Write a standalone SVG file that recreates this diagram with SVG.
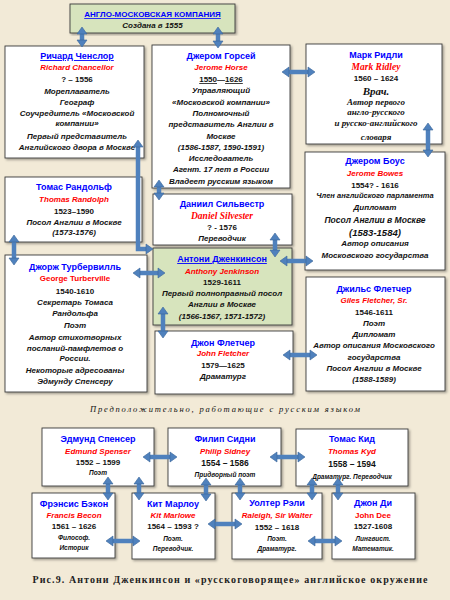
<svg xmlns="http://www.w3.org/2000/svg" width="450" height="600" viewBox="0 0 450 600">
<defs>
<filter id="sh" x="-10%" y="-10%" width="120%" height="120%"><feDropShadow dx="1.5" dy="1.5" stdDeviation="0.8" flood-color="#000" flood-opacity="0.35"/></filter>
<marker id="ah" markerUnits="userSpaceOnUse" markerWidth="8" markerHeight="11" refX="0" refY="5" orient="auto-start-reverse" overflow="visible"><path d="M0,0 L7,5 L0,10 z" fill="#4F81BD" stroke="#3A6699" stroke-width="0.6"/></marker>
<style>
.box{fill:#fff;stroke:#3a3a3a;stroke-width:0.9;filter:url(#sh)}
.grn{fill:#D7E4BD}
text{text-anchor:middle;font-family:"Liberation Sans",Arial,sans-serif}
.nm{font-weight:bold;font-size:9px;fill:#0000FF}
.u{text-decoration:underline}
.en{font-weight:bold;font-style:italic;font-size:8px;fill:#FF0000}
.ens{font-family:"Liberation Serif","Times New Roman",serif;font-weight:bold;font-style:italic;font-size:9.5px;fill:#FF0000}
.d{font-weight:bold;font-size:8px;fill:#111}
.t{font-weight:bold;font-style:italic;font-size:8px;fill:#111}
.ts{font-family:"Liberation Serif","Times New Roman",serif;font-weight:bold;font-style:italic;font-size:9px;fill:#111}
.sm{font-weight:bold;font-style:italic;font-size:6.5px;fill:#111}
.cap{font-family:"Liberation Serif","Times New Roman",serif;font-style:italic;font-size:8.5px;fill:#111}
.fig{font-family:"Liberation Serif","Times New Roman",serif;font-weight:bold;font-size:10px;fill:#222}
.con{fill:none;stroke:#4F81BD;stroke-width:4.5;marker-start:url(#ah);marker-end:url(#ah)}
</style>
</defs>
<rect width="450" height="600" fill="#F2EAD7"/>

<g id="company">
<rect class="box grn" x="70" y="4" width="165" height="29"/>
<text class="nm u" x="152.5" y="17" style="font-size:8px">АНГЛО-МОСКОВСКАЯ КОМПАНИЯ</text>
<text class="t" x="152.5" y="28">Создана в 1555</text>
</g>

<g id="chancellor">
<rect class="box" x="5" y="46" width="139" height="112"/>
<text class="nm u" x="77" y="59">Ричард Ченслор</text>
<text class="en" x="77" y="70">Richard  Chancellor</text>
<text class="d" x="77" y="82">? – 1556</text>
<text class="t" x="77" y="94">Мореплаватель</text>
<text class="t" x="77" y="105">Географ</text>
<text class="t" x="77" y="116">Соучредитель «Московской</text>
<text class="t" x="77" y="126">компании»</text>
<text class="t" x="77" y="139">Первый представитель</text>
<text class="t" x="77" y="150">Английского двора в Москве</text>
</g>

<g id="horse">
<rect class="box" x="152" y="45" width="138" height="143"/>
<text class="nm" x="221" y="59">Джером Горсей</text>
<text class="en" x="221" y="70">Jerome  Horse</text>
<text class="d" x="221" y="82"><tspan class="u">1550</tspan>—<tspan class="u">1626</tspan></text>
<text class="t" x="221" y="93">Управляющий</text>
<text class="t" x="221" y="105">«Московской компании»</text>
<text class="t" x="221" y="116">Полномочный</text>
<text class="t" x="221" y="127">представитель Англии в</text>
<text class="t" x="221" y="139">Москве</text>
<text class="t" x="221" y="150">(1586-1587, 1590-1591)</text>
<text class="t" x="221" y="161">Исследователь</text>
<text class="t" x="221" y="172">Агент. 17 лет в России</text>
<text class="t" x="221" y="184">Владеет русским языком</text>
</g>

<g id="ridley">
<rect class="box" x="306" y="44" width="136" height="100"/>
<text class="nm" x="376" y="58">Марк Ридли</text>
<text class="ens" x="376" y="70">Mark Ridley</text>
<text class="d" x="376" y="81">1560 – 1624</text>
<text class="ts" x="376" y="95" style="font-size:11px">Врач.</text>
<text class="ts" x="376" y="105">Автор первого</text>
<text class="ts" x="376" y="115">англо-русского</text>
<text class="ts" x="376" y="126">и русско-английского</text>
<text class="ts" x="376" y="140">словаря</text>
</g>

<g id="bowes">
<rect class="box" x="305" y="152" width="140" height="118"/>
<text class="nm" x="375" y="164">Джером Боус</text>
<text class="en" x="375" y="176">Jerome  Bowes</text>
<text class="d" x="375" y="188">1554? - 1616</text>
<text class="t" x="375" y="198" style="font-size:7.5px">Член английского парламента</text>
<text class="t" x="375" y="210">Дипломат</text>
<text class="t" x="375" y="223" style="font-size:8.5px">Посол Англии в Москве</text>
<text class="t" x="375" y="236" style="font-size:9.5px">(1583-1584)</text>
<text class="t" x="375" y="246">Автор описания</text>
<text class="t" x="375" y="258">Московского государства</text>
</g>

<g id="randolph">
<rect class="box" x="5" y="177" width="137" height="65"/>
<text class="nm" x="74" y="190">Томас Рандольф</text>
<text class="en" x="74" y="202">Thomas  Randolph</text>
<text class="d" x="74" y="214">1523–1590</text>
<text class="t" x="74" y="225">Посол Англии в Москве</text>
<text class="t" x="74" y="235">(1573-1576)</text>
</g>

<g id="silvester">
<rect class="box" x="153" y="194" width="139" height="51"/>
<text class="nm" x="222" y="207">Даниил Сильвестр</text>
<text class="ens" x="222" y="219">Daniel Silvester</text>
<text class="d" x="222" y="230">? - 1576</text>
<text class="t" x="222" y="241">Переводчик</text>
</g>

<g id="jenkinson">
<rect class="box grn" x="153" y="248" width="139" height="77"/>
<text class="nm u" x="222" y="262">Антони Дженкинсон</text>
<text class="en" x="222" y="274">Anthony  Jenkinson</text>
<text class="d" x="222" y="285">1529-1611</text>
<text class="t" x="222" y="296">Первый полноправный посол</text>
<text class="t" x="222" y="307">Англии в Москве</text>
<text class="t" x="222" y="319">(1566-1567, 1571-1572)</text>
</g>

<g id="turberville">
<rect class="box" x="5" y="255" width="142" height="137"/>
<text class="nm" x="75" y="270">Джорж Турбервилль</text>
<text class="en" x="75" y="281" style="font-style:normal">George  Turberville</text>
<text class="d" x="75" y="294">1540-1610</text>
<text class="t" x="75" y="305">Секретарь Томаса</text>
<text class="t" x="75" y="316">Рандольфа</text>
<text class="t" x="75" y="328">Поэт</text>
<text class="t" x="75" y="340">Автор стихотворных</text>
<text class="t" x="75" y="351">посланий-памфлетов о</text>
<text class="t" x="75" y="361">России.</text>
<text class="t" x="75" y="373">Некоторые адресованы</text>
<text class="t" x="75" y="384">Эдмунду Спенсеру</text>
</g>

<g id="giles">
<rect class="box" x="306" y="277" width="139" height="114"/>
<text class="nm" x="374" y="292">Джильс Флетчер</text>
<text class="en" x="374" y="303">Giles  Fletcher, Sr.</text>
<text class="d" x="374" y="315">1546-1611</text>
<text class="t" x="374" y="326">Поэт</text>
<text class="t" x="374" y="337">Дипломат</text>
<text class="t" x="374" y="348">Автор описания Московского</text>
<text class="t" x="374" y="360">государства</text>
<text class="t" x="374" y="371">Посол Англии в Москве</text>
<text class="t" x="374" y="382">(1588-1589)</text>
</g>

<g id="jfletcher">
<rect class="box" x="155" y="331" width="138" height="63"/>
<text class="nm" x="223" y="346">Джон Флетчер</text>
<text class="en" x="223" y="356">John  Fletcher</text>
<text class="d" x="223" y="368">1579—1625</text>
<text class="t" x="223" y="379">Драматург</text>
</g>

<text class="cap" x="225" y="412" textLength="270" lengthAdjust="spacing">Предположительно, работающие с русским языком</text>

<g id="spenser">
<rect class="box" x="42" y="428" width="112" height="58"/>
<text class="nm" x="98" y="442">Эдмунд Спенсер</text>
<text class="en" x="98" y="454">Edmund Spenser</text>
<text class="d" x="98" y="465">1552 – 1599</text>
<text class="sm" x="98" y="475">Поэт</text>
</g>

<g id="sidney">
<rect class="box" x="168" y="428" width="113" height="58"/>
<text class="nm" x="225" y="442">Филип Сидни</text>
<text class="en" x="225" y="454">Philip Sidney</text>
<text class="d" x="225" y="466" style="font-size:8.5px">1554 – 1586</text>
<text class="sm" x="225" y="477">Придворный поэт</text>
</g>

<g id="kyd">
<rect class="box" x="296" y="429" width="112" height="57"/>
<text class="nm" x="352" y="442">Томас Кид</text>
<text class="en" x="352" y="454">Thomas Kyd</text>
<text class="d" x="352" y="467" style="font-size:8.5px">1558 – 1594</text>
<text class="sm" x="352" y="479">Драматург. Переводчик</text>
</g>

<g id="bacon">
<rect class="box" x="32" y="493" width="83" height="65"/>
<text class="nm" x="74" y="507">Фрэнсис Бэкон</text>
<text class="en" x="74" y="518">Francis Becon</text>
<text class="d" x="74" y="529">1561 – 1626</text>
<text class="sm" x="74" y="540">Философ.</text>
<text class="sm" x="74" y="550">Историк</text>
</g>

<g id="marlowe">
<rect class="box" x="132" y="493" width="83" height="66"/>
<text class="nm" x="173" y="507">Кит Марлоу</text>
<text class="en" x="173" y="518">Kit Marlowe</text>
<text class="d" x="173" y="529">1564 – 1593 ?</text>
<text class="sm" x="173" y="541">Поэт.</text>
<text class="sm" x="173" y="551">Переводчик.</text>
</g>

<g id="raleigh">
<rect class="box" x="232" y="493" width="90" height="66"/>
<text class="nm" x="277" y="506">Уолтер Рэли</text>
<text class="en" x="277" y="518">Raleigh, Sir  Walter</text>
<text class="d" x="277" y="530">1552 – 1618</text>
<text class="sm" x="277" y="541">Поэт.</text>
<text class="sm" x="277" y="551">Драматург.</text>
</g>

<g id="dee">
<rect class="box" x="332" y="493" width="83" height="66"/>
<text class="nm" x="373" y="506">Джон Ди</text>
<text class="en" x="373" y="518" style="font-style:normal">John Dee</text>
<text class="d" x="373" y="529">1527-1608</text>
<text class="sm" x="373" y="541">Лингвист.</text>
<text class="sm" x="373" y="551">Математик.</text>
</g>

<g id="connectors">
<line class="con" x1="82" y1="34" x2="82" y2="40"/>
<line class="con" x1="218" y1="34" x2="218" y2="41"/>
<line class="con" x1="289" y1="72" x2="308" y2="72"/>
<line class="con" x1="428" y1="130" x2="428" y2="150"/>
<line class="con" x1="159" y1="187" x2="159" y2="193"/>
<line class="con" x1="275" y1="240" x2="275" y2="250"/>
<line class="con" x1="287" y1="261" x2="306" y2="261"/>
<path class="con" d="M138,147 V249 H146"/>
<line class="con" x1="140" y1="273" x2="158" y2="273"/>
<line class="con" x1="14" y1="242" x2="14" y2="258"/>
<line class="con" x1="163" y1="314" x2="163" y2="331"/>
<line class="con" x1="290" y1="355" x2="310" y2="355"/>
<line class="con" x1="150" y1="457" x2="170" y2="457"/>
<line class="con" x1="277" y1="457" x2="298" y2="457"/>
<line class="con" x1="108" y1="484" x2="108" y2="493"/>
<line class="con" x1="139" y1="484" x2="139" y2="493"/>
<line class="con" x1="206" y1="485" x2="206" y2="494"/>
<line class="con" x1="240" y1="485" x2="240" y2="493"/>
<line class="con" x1="312" y1="485" x2="312" y2="493"/>
<line class="con" x1="338" y1="485" x2="338" y2="493"/>
<line class="con" x1="113" y1="541" x2="133" y2="541"/>
<line class="con" x1="215" y1="524" x2="235" y2="524"/>
<line class="con" x1="315" y1="541" x2="335" y2="541"/>
</g>

<text class="fig" x="230" y="583" textLength="395" lengthAdjust="spacing">Рис.9. Антони Дженкинсон и «русскоговорящее» английское окружение</text>
</svg>
